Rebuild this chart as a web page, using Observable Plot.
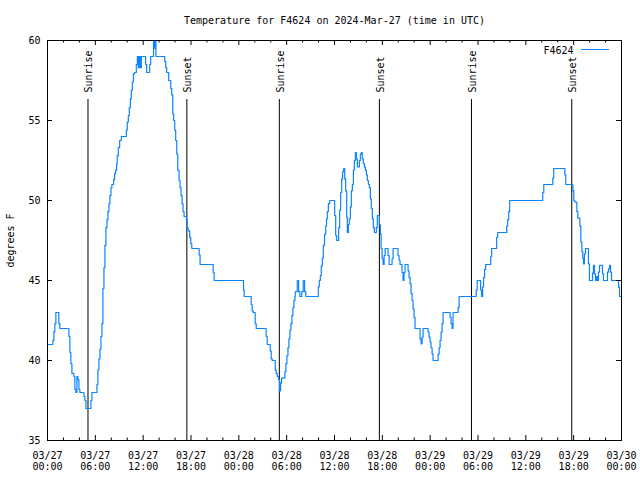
<!DOCTYPE html>
<html><head><meta charset="utf-8">
<script src="https://cdn.jsdelivr.net/npm/d3@7"></script>
<script src="https://cdn.jsdelivr.net/npm/@observablehq/plot@0.6"></script>
<style>
body{margin:0;background:#fff;}
#wrap{position:relative;width:640px;height:480px;}
#legendline{position:absolute;left:581px;top:49px;width:28px;height:0;border-top:1.2px solid #0b84ff;}
</style></head><body><div id="wrap"><div id="legendline"></div></div>
<script>
const title = "Temperature for F4624 on 2024-Mar-27 (time in UTC)";
const seriesName = "F4624";
const yLabel = "degrees F";
const startUTC = Date.UTC(2024, 2, 27);

// hours since 2024-03-27 00:00 UTC, and temperature (°F)
const hours = [0.0,0.54,0.67,0.80,0.92,1.05,1.30,1.42,1.55,2.55,2.68,2.81,2.93,3.06,3.31,3.43,3.56,3.69,3.81,3.94,4.06,4.44,4.57,4.69,4.82,5.32,5.45,5.57,6.07,6.2,6.32,6.45,6.58,6.7,6.83,6.95,7.08,7.2,7.33,7.46,7.58,7.71,7.83,7.96,8.08,8.29,8.42,8.54,8.67,8.75,8.88,9.05,9.26,9.89,10.01,10.14,10.26,10.39,10.51,10.64,10.77,10.89,11.14,11.27,11.39,11.52,11.64,11.77,12.31,12.44,12.82,12.94,13.07,13.3,13.4,13.5,13.6,14.7,14.83,14.95,15.2,15.46,15.58,15.71,15.83,15.96,16.08,16.21,16.34,16.5,16.63,16.75,16.88,17.0,17.13,17.43,17.51,17.63,17.84,17.97,18.1,19.02,19.14,20.78,20.9,24.59,24.67,25.55,25.67,25.8,26.05,26.18,27.43,27.56,27.94,28.06,28.19,28.57,28.69,28.82,28.99,29.11,29.24,29.36,29.78,29.9,30.03,30.16,30.28,30.41,30.53,30.66,30.78,30.91,31.04,31.08,31.33,31.5,31.65,31.9,32.08,32.25,32.4,33.97,34.09,34.22,34.34,34.47,34.6,34.75,34.9,35.0,35.1,35.23,35.4,35.9,36.02,36.15,36.27,36.52,36.65,36.77,36.9,37.02,37.15,37.28,37.4,37.53,37.61,37.74,37.86,37.99,38.11,38.24,38.37,38.49,38.62,38.74,38.87,39.12,39.24,39.37,39.49,39.62,39.75,39.87,40.0,40.12,40.25,40.37,40.5,40.62,40.75,40.87,41.0,41.25,41.37,41.63,41.75,41.85,41.97,42.1,42.22,42.35,42.72,42.85,43.22,43.35,43.97,44.1,44.22,44.47,44.6,44.72,44.85,45.23,45.35,45.48,45.6,45.73,45.85,45.98,46.1,46.73,46.86,46.98,47.11,47.73,47.86,47.99,48.11,48.24,48.36,48.99,49.12,49.24,49.37,49.49,49.62,50.5,50.62,50.75,50.87,51.5,51.63,53.77,53.9,54.33,54.45,54.58,54.7,54.83,54.96,55.59,55.71,56.34,56.47,57.6,57.72,57.85,57.97,62.12,62.25,63.38,63.5,64.89,65.01,65.9,66.02,66.15,66.4,66.53,66.78,66.9,67.03,67.14,67.23,67.35,67.48,67.85,67.98,68.36,68.48,68.61,68.73,68.86,68.99,69.11,69.24,69.61,69.74,70.24,70.37,70.5,70.62,70.75,71.63,71.75,72.0];
const temps = [41,41,41.25,41.8,42.3,43,43,42.3,42,42,41.5,40.5,39.8,39.2,39,38.2,38,39,38.8,38.2,38,38,37.75,37.5,37,37,37.5,38,38,38.5,39.4,40.1,40.7,41.5,42.3,44.5,45.8,47.2,48.3,48.8,49.3,49.8,50.3,50.8,51,51.3,51.7,51.9,52.3,52.8,53.3,53.75,54,54.4,54.9,55.3,55.8,56.35,56.9,57.4,57.9,58,58.5,59,58.3,59,58.3,59,58.5,58,58.5,59,59,60,59.5,60,59,58.7,58.3,58,57.5,57,56.6,55.4,55,54.4,53.75,52.9,51.9,51.25,50.8,50.3,49.8,49.3,49,48.8,48.3,48.1,47.7,47.3,47,46.6,46,45.5,45,44.4,44,43.5,43.1,43,42.3,42,41.5,41,40.6,40.1,40,39.4,39.2,39,38.8,38.1,38.6,38.9,39.3,39.8,40.3,40.8,41.35,41.9,42.3,42.8,43.3,43.75,44,44.3,45,44.3,44,44.3,45,44.3,44,44.6,45,45.3,45.9,46.4,47.2,47.9,48.4,48.85,49.3,49.8,50,50,49.06,47.8,47.5,48.3,49.4,50.5,51.35,51.8,52,51.35,50.6,48.95,48,48.5,48.85,49.6,50.6,51,51.9,52.5,53,52.6,52.1,52.5,52.9,53,52.6,52.3,52.1,51.9,51.6,51.25,51,50.8,50.1,49.5,48.85,48.3,48,48.3,49.06,48.5,47.9,47,46.36,46,46.56,47,46.56,46,46.36,47,46.56,46.25,46,45.5,45,45.5,46,45.6,45.2,44.8,44.2,43.75,43.23,42.7,42,41.35,41.04,41.46,42,41.77,41.46,41.15,40.8,40.4,40,40.4,40.8,41.25,41.77,42.3,43,42.7,42.3,42,43,43.3,44,44.4,45,44.4,44,44.6,45.2,45.7,46,46.5,47,47.7,48,48.4,48.8,49.3,50,50.5,51,51.4,52,51.6,51,50.6,50,49.9,49.3,48.9,48.4,47.4,46.8,46.4,46.04,46.67,47,46.04,45,45.46,45.94,45.42,45,45.25,45,45.52,45.94,45.42,45,45.52,45.73,45.94,45.52,45,44.58,44,44];

const sunEventNames = ["Sunrise","Sunset","Sunrise","Sunset","Sunrise","Sunset"];
const sunEventHours = [5.08, 17.48, 29.08, 41.63, 53.18, 65.76];

const yTicks = [35, 40, 45, 50, 55, 60];
const xMajorHours = [0, 6, 12, 18, 24, 30, 36, 42, 48, 54, 60, 66, 72];
const xMinorHours = [2, 4, 8, 10, 14, 16, 20, 22, 26, 28, 32, 34, 38, 40, 44, 46, 50, 52, 56, 58, 62, 64, 68, 70];

const toDate = h => new Date(startUTC + h * 3600e3);
const rows = hours.map((h, i) => ({date: toDate(h), temp: temps[i]}));
const sunEvents = sunEventHours.map((h, i) => ({date: toDate(h), name: sunEventNames[i]}));
const majorDates = xMajorHours.map(toDate);
const minorDates = xMinorHours.map(toDate);
const pad = n => String(n).padStart(2, "0");
const fmt = d => `${pad(d.getUTCMonth() + 1)}/${pad(d.getUTCDate())}\n${pad(d.getUTCHours())}:${pad(d.getUTCMinutes())}`;

const W = 640, H = 480, mL = 47, mR = 19, mT = 40, mB = 40;
const fw = W - mL - mR, fh = H - mT - mB;
const blue = "#0b84ff";

const chart = Plot.plot({
  width: W, height: H,
  marginLeft: mL, marginRight: mR, marginTop: mT, marginBottom: mB,
  style: {fontFamily: "DejaVu Sans Mono", fontSize: "10px", background: "white", color: "black"},
  x: {type: "utc", domain: [toDate(0), toDate(72)], axis: null},
  y: {domain: [35, 60], axis: null},
  marks: [
    Plot.ruleX(sunEvents, {x: "date", insetTop: 59, stroke: "black", strokeWidth: 1}),
    Plot.text(sunEvents, {x: "date", text: "name", frameAnchor: "top", dy: 52, dx: 1, rotate: -90, textAnchor: "start", lineAnchor: "middle", fill: "black"}),
    Plot.line(rows, {x: "date", y: "temp", curve: "step-after", stroke: blue, strokeWidth: 1.2}),
    Plot.ruleX(majorDates, {x: d => d, insetTop: fh - 5, stroke: "black"}),
    Plot.ruleX(majorDates, {x: d => d, insetBottom: fh - 5, stroke: "black"}),
    Plot.ruleX(minorDates, {x: d => d, insetTop: fh - 2.5, stroke: "black"}),
    Plot.ruleX(minorDates, {x: d => d, insetBottom: fh - 2.5, stroke: "black"}),
    Plot.ruleY(yTicks, {y: d => d, insetRight: fw - 5, stroke: "black"}),
    Plot.ruleY(yTicks, {y: d => d, insetLeft: fw - 5, stroke: "black"}),
    Plot.frame({stroke: "black"}),
    Plot.text(majorDates, {x: d => d, text: fmt, frameAnchor: "bottom", dy: 10, lineAnchor: "top", lineHeight: 1.15, textAnchor: "middle", fill: "black"}),
    Plot.text(yTicks, {y: d => d, text: d => String(d), frameAnchor: "left", dx: -7, textAnchor: "end", lineAnchor: "middle", fill: "black"}),
    Plot.text([yLabel], {text: d => d, frameAnchor: "left", dx: -37, rotate: -90, textAnchor: "middle", lineAnchor: "middle", fill: "black"}),
    Plot.text([title], {text: d => d, frameAnchor: "top", dy: -20, textAnchor: "middle", lineAnchor: "middle", fill: "black"}),
    Plot.text([seriesName], {text: d => d, frameAnchor: "top-right", dx: -48, dy: 10, textAnchor: "end", lineAnchor: "middle", fill: "black"})
  ]
});
document.getElementById("wrap").prepend(chart);
</script></body></html>
